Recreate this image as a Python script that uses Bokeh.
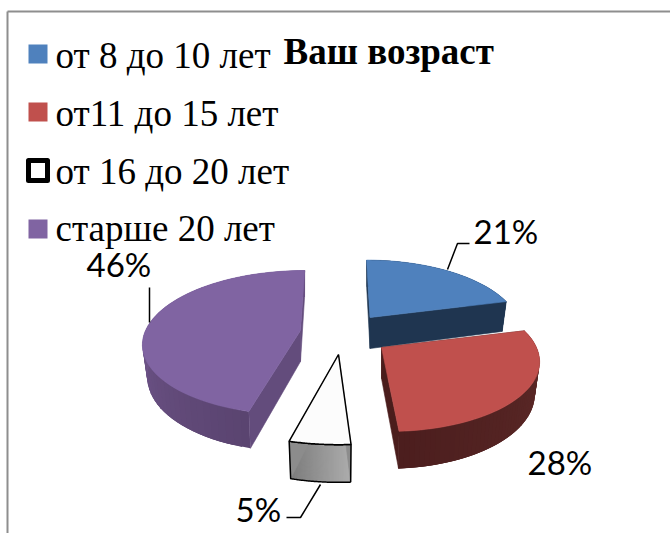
import math
from bokeh.plotting import figure
from bokeh.models import Range1d
from bokeh.core.properties import value
from bokeh.embed import file_html
from bokeh.resources import INLINE

# --- data
title = "Ваш возраст"
categories = ["от 8 до 10 лет", "от11 до 15 лет", "от 16 до 20 лет", "старше 20 лет"]
shares = [21, 28, 5, 46]

# --- layout / style (page pixels)
W, H = 670, 533
apexes = [(369.5, 317, 0.06), (381, 347, 0.07), (338, 354, 0.0), (300, 330, -0.07)]
radius_scale = [0.95, 1.0, 1.06, 1.0]
RX, RY, PERSP, DEPTH, SHRINK = 155, 70, 0.167, 31, 0.97
top_colors = ["#4f81bd", "#c0504d", "#fcfcfc", "#8064a2"]
radial_colors = ["#1f3550", "#4a1d1c", "#8c8c8c", "#634c7c"]
arc_from = [(31, 53, 80), (96, 44, 42), (172, 172, 172), (118, 90, 146)]
arc_to = [(31, 53, 80), (76, 30, 30), (124, 124, 124), (90, 68, 112)]
outlined = [False, False, True, False]
legend_base = [54.5, 112.5, 170.5, 227.5]
title_base = 51
legend_rect = [(28, 44), (28, 102), None, (28, 219)]
label_pos = [(473, 230), (527, 461), (235, 508), (86, 263)]
leaders = [[(447, 269), (457, 243), (469, 243)],
           [],
           [(320, 484), (300, 517), (286, 517)],
           [(149, 322), (149, 287)]]

p = figure(width=W, height=H, x_range=Range1d(0, W), y_range=Range1d(H, 0),
           output_backend="svg", toolbar_location=None, min_border=0,
           outline_line_color=None, background_fill_color="white")
p.axis.visible = False
p.grid.visible = False

# frame
p.line([7, 7], [533, 11], line_color="#8e8e8e", line_width=2)
p.line([7, 670], [11, 11], line_color="#8e8e8e", line_width=2)


def top_pt(apex, t, r):
    yn = -math.cos(t) * r
    w = 1 / (1 - PERSP * yn)
    dy = RY * yn * w
    return apex[0] + RX * math.sin(t) * r * w + apex[2] * dy, apex[1] + dy, w


def low_pt(apex, t, r):
    x, y, w = top_pt(apex, t, r)
    return apex[0] + (x - apex[0]) * SHRINK, y + DEPTH * w


def hexc(c):
    return "#%02x%02x%02x" % tuple(int(round(v)) for v in c)


total = sum(shares)
bounds = []
acc = 0
for s in shares:
    bounds.append((acc / total * 2 * math.pi, (acc + s) / total * 2 * math.pi))
    acc += s

for i in [0, 3, 2, 1]:
    t0, t1 = bounds[i]
    a, rs = apexes[i], radius_scale[i]
    n = 60
    ts = [t0 + (t1 - t0) * k / n for k in range(n + 1)]
    # outer wall, shaded; each strip overlaps the next so that no seams show
    for k in range(n):
        q0, q1 = ts[k], ts[min(k + 3, n)]
        f = k / (n - 1)
        col = hexc([arc_from[i][j] + (arc_to[i][j] - arc_from[i][j]) * f for j in range(3)])
        if i == 3:  # the wall runs right-to-left on this slice
            col = hexc([arc_to[i][j] + (arc_from[i][j] - arc_to[i][j]) * min(1, f * 1.6) for j in range(3)])
        A, B = top_pt(a, q0, rs), top_pt(a, q1, rs)
        C, D = low_pt(a, q1, rs), low_pt(a, q0, rs)
        p.patch([A[0], B[0], C[0], D[0]], [A[1], B[1], C[1], D[1]],
                fill_color=col, line_color=None)
    # cut faces
    for t in (t0, t1):
        E = top_pt(a, t, rs)
        F = low_pt(a, t, rs)
        G = low_pt(a, t, 0)
        xs, ys = [a[0], E[0], F[0], G[0]], [a[1], E[1], F[1], G[1]]
        p.patch(xs, ys, fill_color=radial_colors[i], line_color=radial_colors[i], line_width=0.6)
    # top face
    tp = [top_pt(a, t, rs) for t in ts]
    xs = [a[0]] + [q[0] for q in tp]
    ys = [a[1]] + [q[1] for q in tp]
    lc = "black" if outlined[i] else top_colors[i]
    if outlined[i]:
        lo = [low_pt(a, t, rs) for t in ts]
        wx = [q[0] for q in tp] + [q[0] for q in reversed(lo)]
        wy = [q[1] for q in tp] + [q[1] for q in reversed(lo)]
        p.patch(wx, wy, fill_color=None, line_color="black", line_width=1.5)
    p.patch(xs, ys, fill_color=top_colors[i], line_color=lc, line_width=1.5 if outlined[i] else 0.6)

# leaders and value labels
for pts in leaders:
    if pts:
        p.line([q[0] for q in pts], [q[1] for q in pts], line_color="black", line_width=1.5)
p.text([q[0] for q in label_pos], [q[1] for q in label_pos], text=[f"{s}%" for s in shares],
       text_font=value("Lato"), text_font_size="33px", text_color="black",
       text_baseline="alphabetic", text_align="left")

# legend
p.text([55] * 4, legend_base, text=categories, text_font=value("Liberation Serif"),
       text_font_size="37px", text_color="black", text_baseline="alphabetic", text_align="left")
for r, c in zip(legend_rect, top_colors):
    if r:
        p.quad(left=[r[0]], right=[r[0] + 19], top=[r[1]], bottom=[r[1] + 19],
               fill_color=c, line_color=None)
p.quad(left=[28], right=[47], top=[160], bottom=[180], fill_color="white",
       line_color="black", line_width=5, line_join="round")

p.text([283], [title_base], text=[title], text_font=value("Liberation Serif"), text_font_size="37px",
       text_font_style="bold", text_color="black", text_baseline="alphabetic", text_align="left")

open("out.html", "w").write(file_html(p, INLINE))
